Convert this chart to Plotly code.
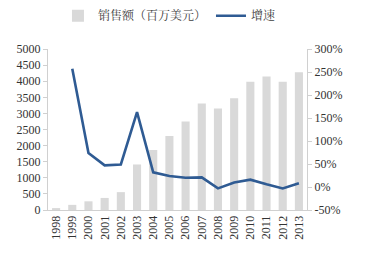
import plotly.graph_objects as go

years = [str(y) for y in range(1998, 2014)]
sales = [45, 160, 270, 375, 555, 1415, 1865, 2300, 2750, 3310, 3155, 3470, 3985, 4150, 3985, 4280]
growth_years = years[1:]
growth = [257, 74, 47, 49, 163, 32, 24, 20, 21, -3, 10, 16, 6, -3, 8]

left_ticks = list(range(0, 5001, 500))
right_ticks = list(range(-50, 301, 50))

serif = "Liberation Serif, Times New Roman, serif"
cjk = "Noto Serif CJK SC, Noto Sans CJK SC, serif"

fig = go.Figure()
fig.add_trace(go.Bar(x=years, y=sales, name="销售额（百万美元）",
                     marker=dict(color="#d9d9d9", line=dict(width=0)), yaxis="y"))
fig.add_trace(go.Scatter(x=growth_years, y=growth, name="增速", mode="lines",
                         line=dict(color="#2f5b93", width=2.6), yaxis="y2"))

fig.update_layout(
    width=374, height=259,
    margin=dict(l=48, r=67, t=25, b=49),
    paper_bgcolor="white", plot_bgcolor="white",
    bargap=0.5,
    font=dict(family=serif, size=12, color="#333333"),
    showlegend=True,
    legend=dict(orientation="h", x=0.155, y=0.995, xref="container", yref="container",
                yanchor="top", xanchor="left",
                font=dict(family=cjk, size=12, color="#404040"),
                itemwidth=30, tracegroupgap=0, bgcolor="rgba(0,0,0,0)"),
    xaxis=dict(type="category", tickangle=-90, showline=True, linecolor="#d0d0d0",
               linewidth=1, ticks="", showgrid=False,
               tickfont=dict(family=serif, size=12, color="#333333")),
    yaxis=dict(range=[0, 5000], tickvals=left_ticks, showgrid=False, zeroline=False,
               showline=True, linecolor="#d0d0d0", ticks="outside", ticklen=4,
               tickcolor="#d0d0d0", tickfont=dict(family=serif, size=12, color="#333333")),
    yaxis2=dict(range=[-50, 300], tickvals=right_ticks,
                ticktext=[f"{v}%" for v in right_ticks],
                overlaying="y", side="right", showgrid=False, zeroline=False,
                showline=True, linecolor="#d0d0d0", ticks="outside", ticklen=4,
                tickcolor="#d0d0d0", tickfont=dict(family=serif, size=12, color="#333333")),
)

fig.write_html("out.html")
